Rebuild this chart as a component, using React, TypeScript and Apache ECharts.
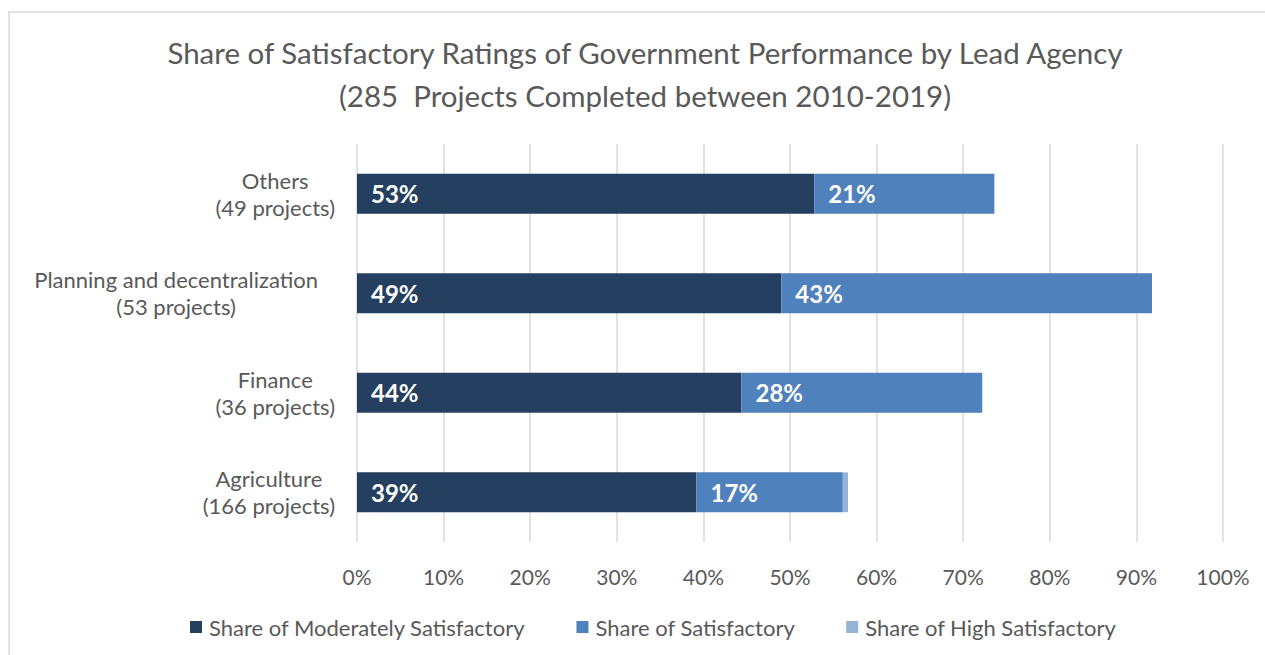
import React, { useEffect, useRef } from "react";
import * as echarts from "echarts";

const categories = [
  "Agriculture\n(166 projects)",
  "Finance\n(36 projects)",
  "Planning and decentralization\n(53 projects)",
  "Others\n(49 projects)",
];
const moderatelySatisfactory = [39.2, 44.4, 49.0, 52.8];
const satisfactory = [16.9, 27.8, 42.8, 20.8];
const highSatisfactory = [0.6, 0, 0, 0];
const xTicks = [0, 10, 20, 30, 40, 50, 60, 70, 80, 90, 100];

const seriesNames = [
  "Share of Moderately Satisfactory",
  "Share of Satisfactory",
  "Share of High Satisfactory",
];
const colors = ["#243F60", "#4F81BD", "#95B3D7"];

const FONT = "Lato";

export default function App() {
  const ref = useRef<HTMLDivElement>(null);
  useEffect(() => {
    if (!ref.current) return;
    const chart = echarts.init(ref.current, null, { renderer: "svg" });
    const label = {
      show: true,
      position: "insideLeft",
      distance: 14,
      color: "#ffffff",
      fontWeight: "bold",
      fontSize: 24,
      fontFamily: FONT,
      formatter: (p: any) => (p.value >= 5 ? Math.round(p.value) + "%" : ""),
    };
    const catStyle = {
      align: "center",
      fontFamily: FONT,
      fontSize: 22,
      color: "#595959",
      lineHeight: 27,
    };
    chart.setOption({
      animation: false,
      color: colors,
      title: {
        text: "Share of Satisfactory Ratings of Government Performance by Lead Agency\n(285  Projects Completed between 2010-2019)",
        left: 640,
        top: 26,
        textAlign: "center",
        textStyle: {
          fontFamily: FONT,
          fontSize: 29.5,
          fontWeight: "normal",
          color: "#595959",
          lineHeight: 43,
        },
      },
      graphic: [
        {
          type: "rect",
          shape: { x: 9, y: 12, width: 1270, height: 660 },
          style: { fill: "none", stroke: "#d9d9d9", lineWidth: 1.5 },
          silent: true,
        },
      ],
      legend: {
        top: 611,
        left: 185,
        itemWidth: 12,
        itemHeight: 12,
        itemGap: 51,
        icon: "rect",
        textStyle: { fontFamily: FONT, fontSize: 22, color: "#595959", padding: [0, 0, 0, 2] },
        data: seriesNames,
      },
      grid: { left: 357, right: 42, top: 144, bottom: 113, containLabel: false },
      xAxis: {
        type: "value",
        min: xTicks[0],
        max: xTicks[xTicks.length - 1],
        interval: 10,
        axisLine: { show: false },
        axisTick: { show: false },
        splitLine: { show: true, lineStyle: { color: "#d9d9d9", width: 1.5 } },
        axisLabel: {
          margin: 24,
          fontFamily: FONT,
          fontSize: 21,
          color: "#595959",
          formatter: (v: number) => v + "%",
        },
      },
      yAxis: {
        type: "category",
        data: categories,
        axisLine: { show: false },
        axisTick: { show: false },
        axisLabel: {
          margin: 22,
          formatter: (v: string) => {
            const lines = v.split("\n");
            const key = lines[0].length > 20 ? "w" : "c";
            return lines.map((s) => "{" + key + "|" + s + "}").join("\n");
          },
          rich: {
            c: catStyle,
            w: { ...catStyle, padding: [0, 17, 0, 0] },
          },
        },
      },
      series: [
        {
          name: seriesNames[0],
          type: "bar",
          stack: "total",
          barWidth: "40%",
          data: moderatelySatisfactory,
          label,
        },
        {
          name: seriesNames[1],
          type: "bar",
          stack: "total",
          barWidth: "40%",
          data: satisfactory,
          label,
        },
        {
          name: seriesNames[2],
          type: "bar",
          stack: "total",
          barWidth: "40%",
          data: highSatisfactory,
          label: { show: false },
        },
      ],
    });
    return () => chart.dispose();
  }, []);
  return (
    <div
      ref={ref}
      style={{ position: "fixed", left: 0, top: 0, width: 1265, height: 655, background: "#fff" }}
    />
  );
}
